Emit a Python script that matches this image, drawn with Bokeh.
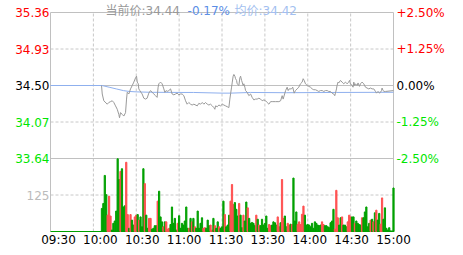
from bokeh.plotting import figure
from bokeh.models import Range1d, ColumnDataSource, LabelSet, Label
from bokeh.embed import file_html
from bokeh.resources import INLINE
from bokeh.core.properties import value

# ---------------- data ----------------
prev_close = 34.50
price_ticks = [35.36, 34.93, 34.50, 34.07, 33.64]
pct_labels = ["+2.50%", "+1.25%", "0.00%", "-1.25%", "-2.50%"]
vol_max = 250
vol_mid = 125
time_ticks = [0, 30, 60, 90, 120, 150, 180, 210, 240]
time_labels = ["09:30", "10:00", "10:30", "11:00", "11:30", "13:30", "14:00", "14:30", "15:00"]

price_t = [35.7, 36.2, 37.3, 39.7, 40.8, 42.0, 43.2, 44.3, 45.5, 46.7,
           47.8, 48.3, 49.0, 50.2, 51.3, 52.5, 53.2, 53.7, 54.8, 56.0,
           57.2, 58.3, 59.5, 60.2, 60.7, 61.4, 61.8, 62.5, 63.7, 64.1,
           65.3, 66.5, 67.6, 68.8, 70.0, 71.1, 72.3, 73.5, 74.6, 75.3,
           75.8, 77.0, 78.1, 79.3, 80.0, 80.9, 81.6, 82.8, 84.0, 85.1,
           86.3, 87.5, 88.6, 89.8, 91.0, 92.1, 93.3, 94.5, 95.6, 96.8,
           98.0, 99.1, 100.3,
           102.7, 103.8, 105.0, 106.2, 107.3, 108.5, 109.7, 110.8, 112.0, 113.2,
           114.3, 115.0, 115.5, 116.7, 117.8, 119.0, 120.2, 121.3, 122.5, 123.7,
           124.8, 125.5, 126.0, 126.7, 127.2, 127.8, 128.3, 129.0, 129.5, 130.2,
           130.6, 131.8, 132.5, 133.0, 133.7, 134.1, 134.8, 135.3, 136.0, 136.5,
           137.6, 138.8, 140.0, 141.1, 142.3, 143.5, 144.6, 145.8, 147.0, 148.1,
           149.3, 150.5, 151.6, 152.8, 154.0, 155.1, 157.5, 159.8, 161.0, 162.1,
           162.8, 163.8, 164.5, 165.6, 166.3, 167.0,
           168.6, 169.5, 170.5, 171.4, 172.6, 173.7, 174.9, 176.1, 176.8, 177.5,
           178.4, 179.6, 180.7, 181.9, 183.1, 184.2, 185.4, 186.6, 187.7, 188.9,
           190.1, 191.2, 192.4, 193.6, 194.7, 195.9, 197.0, 198.2, 198.9, 199.4,
           200.1, 200.5, 201.2, 201.7, 202.9, 204.0, 205.2, 206.4, 207.5, 208.7,
           209.2, 209.9, 211.0, 211.7, 212.2, 212.9, 213.4, 214.5, 215.2, 216.2,
           216.9, 218.0, 219.2, 220.4, 221.5, 222.7, 223.9, 225.0, 226.2, 227.4,
           228.1, 229.2, 230.2, 230.9, 231.6, 232.0, 232.7, 233.4, 234.4, 240.0]

price_v = [34.50, 34.40, 34.32, 34.28, 34.30, 34.31, 34.32, 34.30, 34.26, 34.22,
           34.16, 34.12, 34.18, 34.16, 34.14, 34.18, 34.34, 34.42, 34.40, 34.46,
           34.50, 34.54, 34.59, 34.61, 34.54, 34.52, 34.46, 34.44, 34.41, 34.40,
           34.35, 34.34, 34.35, 34.41, 34.44, 34.42, 34.40, 34.38, 34.36, 34.48,
           34.52, 34.54, 34.52, 34.46, 34.42, 34.44, 34.43, 34.44, 34.46, 34.40,
           34.39, 34.40, 34.41, 34.39, 34.40, 34.40, 34.38, 34.32, 34.28, 34.30,
           34.28, 34.27, 34.28,
           34.26, 34.29, 34.28, 34.30, 34.28, 34.30, 34.28, 34.27, 34.28, 34.26,
           34.24, 34.22, 34.26, 34.25, 34.27, 34.26, 34.28, 34.27, 34.26, 34.25,
           34.24, 34.34, 34.40, 34.48, 34.54, 34.61, 34.63, 34.61, 34.58, 34.56,
           34.52, 34.50, 34.59, 34.61, 34.56, 34.54, 34.50, 34.52, 34.48, 34.44,
           34.42, 34.38, 34.40, 34.36, 34.33, 34.34, 34.34, 34.35, 34.34, 34.32,
           34.33, 34.32, 34.30, 34.28, 34.31, 34.31, 34.31, 34.31, 34.32, 34.38,
           34.34, 34.40, 34.44, 34.48, 34.44, 34.46,
           34.46, 34.48, 34.41, 34.44, 34.46, 34.48, 34.52, 34.54, 34.58, 34.56,
           34.52, 34.50, 34.49, 34.48, 34.46, 34.45, 34.45, 34.44, 34.43, 34.44,
           34.44, 34.43, 34.44, 34.44, 34.43, 34.43, 34.41, 34.40, 34.38, 34.41,
           34.46, 34.50, 34.54, 34.53, 34.56, 34.54, 34.52, 34.54, 34.52, 34.54,
           34.56, 34.52, 34.50, 34.48, 34.54, 34.50, 34.52, 34.50, 34.53, 34.49,
           34.52, 34.54, 34.52, 34.48, 34.47, 34.46, 34.47, 34.46, 34.46, 34.43,
           34.41, 34.43, 34.41, 34.42, 34.44, 34.47, 34.44, 34.43, 34.43, 34.44]

avg_t = [0, 36, 41, 46, 51, 55, 60, 70, 92, 100, 120, 126, 140, 165, 200, 240]
avg_v = [34.50, 34.50, 34.48, 34.46, 34.44, 34.43, 34.425, 34.42, 34.418, 34.418,
         34.41, 34.41, 34.418, 34.415, 34.418, 34.42]

vol_start = 36
volumes = [79, 96, 192, 126, 56, 121, 53, 5, 28, 36,
           70, 249, 178, 206, 215, 84, 88, 237, 58, 11,
           58, 39, 22, 50, 56, 58, 39, 50, 16, 215,
           164, 56, 11, 45, 45, 8, 11, 20, 20, 104,
           138, 50, 33, 16, 33, 33, 8, 11, 24, 84,
           28, 45, 5, 28, 54, 11, 28, 22, 36, 84,
           11, 11, 45, 33, 45, 16, 11, 70, 11, 28,
           47, 11, 13, 11, 39, 20, 22, 5, 45, 20,
           11, 33, 16, 11, 16, 104, 58, 16, 22, 56,
           104, 161, 92, 99, 76, 53, 96, 56, 13, 56,
           36,
           101, 81, 45, 28, 31, 28, 20, 56, 42, 22,
           20, 42, 22, 28, 53, 11, 24, 20, 22, 33,
           30, 22, 50, 16, 30, 178, 45, 53, 16, 28,
           22, 25, 24, 183, 36, 67, 24, 33, 24, 59,
           87, 56, 22, 24, 22, 16, 28, 11, 33, 28,
           22, 20, 22, 33, 24, 20, 20, 16, 13, 30,
           36, 76, 8, 141, 47, 22, 47, 50, 22, 22,
           16, 33, 56, 50, 50, 50, 28, 36, 28, 24,
           22, 47, 47, 67, 84, 16, 28, 39, 42, 33,
           64, 73, 39, 62, 25, 115, 42, 81, 11, 5,
           13, 2, 2, 149]
vol_dir = ("ggggrrrggg" "gggrgggrrg" "rggrrgrggg" "rggrrggggr" "gggrgrrrgg"
           "gggrgggggg" "grgrgrgggg" "grrgggrrgr" "ggrgggrggg" "rrrgggrggr" "g"
           "grgggggrgr" "ggggggrrgg" "ggrrgrrggr" "rgrgggrrrr" "rggggggggg"
           "gggrrggggg" "ggrrrggrgg" "grrrggrggg" "grgggggrgr" "grggrrgggg" "gggg")

# ---------------- styling / layout ----------------
RED, GREEN, BLACK = "#ff0000", "#00e600", "#000000"
BAR_UP, BAR_DN = "#ff5050", "#00a000"
GRID, BORDER = "#c8c8c8", "#c0c0c0"
FONT_NAME = "DejaVu Sans, Noto Sans CJK SC"
FONT = value(FONT_NAME)

W, H = 463, 255
left, right, top, bottom = 50, 70, 12, 24      # plot box inside the canvas
box_w, box_h = W - left - right, H - top - bottom
price_h = box_h * 2 / 3.0

t0, t1 = time_ticks[0], time_ticks[-1]
p_top, p_bot = price_ticks[0], price_ticks[-1]
min_per_px = (t1 - t0) / box_w
price_per_px = (p_top - p_bot) / price_h
y_lo = p_bot - (p_top - p_bot) / 2.0
vol_top = vol_max * 3
vol_per_px = vol_top / box_h

# the frame covers the whole canvas so that outside texts are not clipped
p = figure(width=W, height=H, title=None,
           x_range=Range1d(t0 - left * min_per_px, t1 + right * min_per_px),
           y_range=Range1d(y_lo - bottom * price_per_px, p_top + top * price_per_px),
           x_axis_location=None, y_axis_location=None, toolbar_location=None,
           output_backend="svg", min_border=0, outline_line_color=None,
           background_fill_color="white", border_fill_color="white")
p.extra_y_ranges = {"vol": Range1d(-bottom * vol_per_px, vol_top + top * vol_per_px)}
p.grid.visible = False

# grid lines (dashed)
mid_t = time_ticks[1:-1]
p.segment(x0=mid_t, y0=[y_lo] * len(mid_t), x1=mid_t, y1=[p_top] * len(mid_t),
          line_color=GRID, line_dash="3 2", line_width=1)
dash_p = [price_ticks[1], price_ticks[3]]
p.segment(x0=[t0] * 2, y0=dash_p, x1=[t1] * 2, y1=dash_p,
          line_color=GRID, line_dash="3 2", line_width=1)
p.segment(x0=[t0], y0=[vol_mid], x1=[t1], y1=[vol_mid], y_range_name="vol",
          line_color=GRID, line_dash="3 2", line_width=1)
# solid lines and border
solid_p = [p_top, prev_close, p_bot]
p.segment(x0=[t0] * 3, y0=solid_p, x1=[t1] * 3, y1=solid_p,
          line_color=BORDER, line_width=1)
p.segment(x0=[t0, t1], y0=[y_lo] * 2, x1=[t0, t1], y1=[p_top] * 2,
          line_color=BORDER, line_width=1)
p.segment(x0=[t0], y0=[0], x1=[t1], y1=[0], y_range_name="vol",
          line_color=BAR_DN, line_width=1)

# volume bars
n = min(len(volumes), len(vol_dir))
vol_src = ColumnDataSource(dict(
    x=[vol_start + i for i in range(n)],
    top=volumes[:n],
    color=[BAR_UP if d == "r" else BAR_DN for d in vol_dir[:n]]))
p.vbar(x="x", top="top", bottom=0, width=0.85, color="color",
       source=vol_src, y_range_name="vol")

# price and average lines
p.line(avg_t, avg_v, line_color="#8fb0ee", line_width=1)
p.line(price_t, price_v, line_color="#999999", line_width=1)

# price labels
def col(v):
    if abs(v - prev_close) < 1e-9:
        return BLACK
    return RED if v > prev_close else GREEN

lab_src = ColumnDataSource(dict(
    xl=[t0] * len(price_ticks), xr=[t1] * len(price_ticks), y=price_ticks,
    txt=["%.2f" % v for v in price_ticks], pct=pct_labels,
    c=[col(v) for v in price_ticks]))
p.add_layout(LabelSet(x="xl", y="y", text="txt", text_color="c", source=lab_src,
                      x_offset=-1, text_align="right", text_baseline="middle",
                      text_font=FONT, text_font_size="12px"))
p.add_layout(LabelSet(x="xr", y="y", text="pct", text_color="c", source=lab_src,
                      x_offset=3, text_align="left", text_baseline="middle",
                      text_font=FONT, text_font_size="12px"))
p.add_layout(Label(x=t0, y=vol_mid, y_range_name="vol", text=str(vol_mid),
                   x_offset=-1, text_align="right", text_baseline="middle",
                   text_color="#bbbbbb", text_font=FONT_NAME, text_font_size="12px"))

# time labels
shift = 8 * min_per_px
t_src = ColumnDataSource(dict(
    x=[t + (t1 - t) / (t1 - t0) * shift for t in time_ticks],
    y=[-8 * vol_per_px] * len(time_ticks), txt=time_labels))
p.add_layout(LabelSet(x="x", y="y", text="txt", source=t_src, y_range_name="vol",
                      text_align="center", text_baseline="middle", text_color=BLACK,
                      text_font=FONT, text_font_size="12px"))

# header
last = price_v[-1]
chg = (last / prev_close - 1) * 100
avg_last = avg_v[-1]
hy = p_top + 2 * price_per_px
for x, txt, c in [(38.5, "当前价:%.2f" % last, "#999999"),
                  (95.9, "%.2f%%" % chg, "#5b8ee6"),
                  (128.8, "均价:%.2f" % avg_last, "#a3bff0")]:
    p.add_layout(Label(x=x, y=hy, text=txt, text_color=c, text_align="left",
                       text_baseline="alphabetic", text_font=FONT_NAME,
                       text_font_size="12px"))

open("out.html", "w").write(file_html(p, INLINE))
